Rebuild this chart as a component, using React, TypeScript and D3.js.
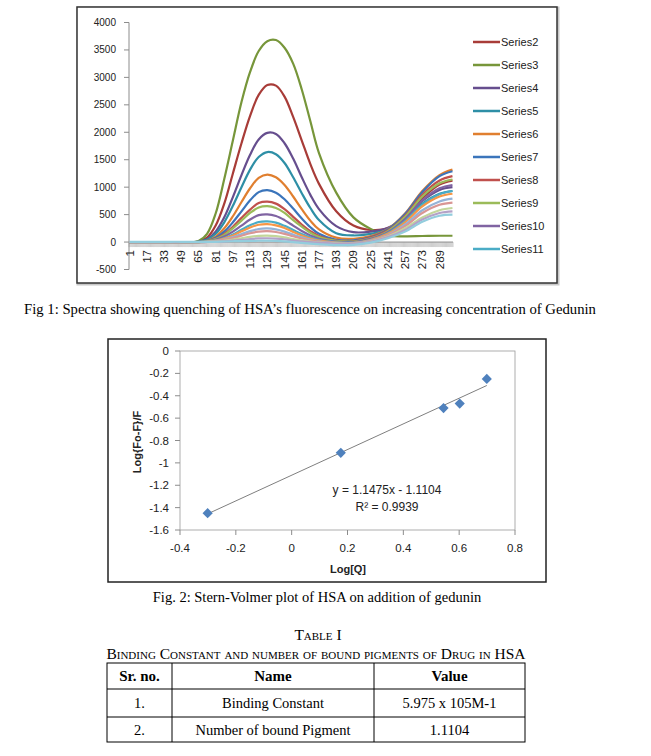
import * as d3 from "d3";
import React from "react";

// ---- Fig 1 data: fluorescence spectra (sampled categories) ----
const specCats = [1, 17, 33, 49, 65, 73, 81, 89, 97, 105, 113, 121, 129, 137, 145, 153, 161, 169, 177, 193, 209, 225, 241, 257, 273, 289, 301];

const s2 = [0, 0, 0, 0, 10, 80, 300, 700, 1250, 1800, 2300, 2680, 2860, 2850, 2650, 2280, 1850, 1420, 1060, 560, 300, 220, 250, 450, 800, 1050, 1120];
const s3 = [null, null, null, 0, 20, 150, 520, 1150, 1850, 2550, 3100, 3480, 3660, 3680, 3540, 3250, 2780, 2200, 1620, 900, 450, 240, 120, 105, 110, 115, 115];
const s4 = [0, 0, 0, 0, 5, 50, 190, 450, 820, 1220, 1590, 1870, 1990, 1970, 1800, 1520, 1180, 860, 600, 290, 180, 190, 260, 450, 750, 950, 1000];
const s5 = [0, 0, 0, 0, 5, 40, 150, 360, 660, 1000, 1320, 1550, 1640, 1600, 1440, 1180, 890, 620, 400, 160, 120, 150, 230, 420, 700, 880, 930];
const s6 = [0, 0, 0, 0, 0, 25, 100, 250, 470, 730, 980, 1170, 1230, 1180, 1040, 830, 600, 390, 230, 80, 60, 110, 240, 520, 930, 1220, 1320];
const s7 = [0, 0, 0, 0, 0, 20, 80, 190, 360, 560, 760, 910, 945, 900, 780, 610, 430, 270, 150, 40, 30, 90, 230, 510, 910, 1200, 1290];
const s8 = [0, 0, 0, 0, 0, 15, 60, 150, 280, 440, 590, 710, 735, 700, 600, 460, 320, 200, 110, 25, 15, 80, 210, 480, 860, 1120, 1200];
const s9 = [0, 0, 0, 0, 0, 12, 55, 130, 250, 390, 530, 630, 655, 620, 530, 400, 280, 170, 90, 20, 10, 70, 200, 460, 830, 1070, 1140];
const s10 = [0, 0, 0, 0, 0, 10, 40, 100, 190, 300, 410, 490, 505, 475, 400, 300, 200, 120, 60, 10, 0, 60, 180, 420, 760, 980, 1040];
const s11 = [0, 0, 0, 0, 0, 8, 30, 75, 140, 225, 305, 365, 378, 355, 295, 220, 145, 85, 40, 0, -10, 40, 160, 380, 680, 870, 930];
const s12 = [0, 0, 0, 0, 0, 6, 25, 65, 120, 195, 265, 315, 328, 305, 255, 185, 120, 65, 25, -10, -15, 35, 150, 360, 650, 830, 880];
const s13 = [0, 0, 0, 0, 0, 5, 20, 50, 90, 145, 200, 238, 248, 230, 190, 135, 85, 45, 15, -15, -20, 25, 130, 320, 580, 740, 790];
const s14 = [0, 0, 0, 0, 0, 4, 15, 40, 72, 115, 160, 190, 198, 183, 150, 105, 65, 30, 5, -20, -25, 20, 120, 290, 530, 680, 720];
const s15 = [0, 0, 0, 0, 0, 2, 10, 24, 45, 70, 95, 113, 118, 108, 85, 55, 30, 10, -5, -25, -30, 10, 100, 250, 450, 580, 620];
const s16 = [0, 0, 0, 0, 0, 1, 5, 14, 26, 40, 56, 66, 69, 62, 48, 30, 12, 0, -10, -30, -30, 5, 90, 220, 410, 530, 560];
const s17 = [5, 5, 5, 5, 2, 2, 5, 10, 15, 18, 22, 24, 25, 20, 12, 0, -15, -30, -40, -55, -50, -10, 70, 190, 370, 480, 500];

const seriesNames = ["Series2", "Series3", "Series4", "Series5", "Series6", "Series7", "Series8", "Series9", "Series10", "Series11", "Series12", "Series13", "Series14", "Series15", "Series16", "Series17"];
const seriesValues = [s2, s3, s4, s5, s6, s7, s8, s9, s10, s11, s12, s13, s14, s15, s16, s17];
const seriesColors = ["#A83C38", "#77963A", "#664E8E", "#2E8FA6", "#E07F2F", "#3B75BB", "#C0504D", "#9BBB59", "#8064A2", "#4BACC6", "#F79646", "#95B3D7", "#D99694", "#C3D69B", "#B3A2C7", "#93CDDD"];
const legendCount = 10; // legend only shows Series2..Series11

const specYTicks = [-500, 0, 500, 1000, 1500, 2000, 2500, 3000, 3500, 4000];
const specCatCount = 301;

// ---- Fig 2 data: Stern-Volmer ----
const logQ = [-0.301, 0.176, 0.544, 0.602, 0.699];
const logRatio = [-1.45, -0.91, -0.51, -0.47, -0.25];
const fitSlope = 1.1475;
const fitIntercept = -1.1104;
const svXTicks = [-0.4, -0.2, 0, 0.2, 0.4, 0.6, 0.8];
const svYTicks = [0, -0.2, -0.4, -0.6, -0.8, -1, -1.2, -1.4, -1.6];

// ---- Table ----
const tableHeader = ["Sr. no.", "Name", "Value"];
const tableRows = [
  ["1.", "Binding Constant", "5.975 x 105M-1"],
  ["2.", "Number of bound Pigment", "1.1104"],
];

const sans = "'Liberation Sans', Arial, sans-serif";
const serif = "'Liberation Serif', 'Times New Roman', serif";

function SpectraChart() {
  const x = d3.scaleLinear().domain([0.5, specCatCount + 0.5]).range([129, 453]);
  const y = d3.scaleLinear().domain([-500, 4000]).range([269.5, 22.5]);
  const line = d3
    .line<number | null>()
    .defined((d) => d !== null)
    .x((_, i) => x(specCats[i]))
    .y((d) => y(d as number))
    .curve(d3.curveCatmullRom.alpha(0.5));

  const catTicks = d3.range(0, specCatCount + 1).map((i) => x(i + 0.5));
  const labelCats = d3.range(1, specCatCount + 1, 16);

  return (
    <g>
      {/* frame */}
      <rect x={78} y={8} width={480} height={276} fill="none" stroke="#c8c8c8" strokeWidth={3} />
      <rect x={77} y={7} width={480} height={276} fill="#fff" stroke="#333" strokeWidth={1.5} />

      {/* y axis */}
      <line x1={129} x2={129} y1={y(4000)} y2={y(-500)} stroke="#8c8c8c" />
      {specYTicks.map((t) => (
        <g key={t}>
          <line x1={124} x2={129} y1={y(t)} y2={y(t)} stroke="#8c8c8c" />
          <text x={116} y={y(t)} dy="0.35em" textAnchor="end" fontSize={10} fontFamily={sans} fill="#222">
            {t}
          </text>
        </g>
      ))}

      {/* x axis */}
      {catTicks.map((cx, i) => (
        <line key={i} x1={cx} x2={cx} y1={y(0)} y2={y(0) + 5} stroke="#9a9a9a" strokeWidth={0.5} />
      ))}
      <line x1={129} x2={453} y1={y(0)} y2={y(0)} stroke="#8c8c8c" />
      {labelCats.map((c) => (
        <text
          key={c}
          transform={`translate(${x(c) + 4},${y(0) + 8}) rotate(-90)`}
          textAnchor="end"
          fontSize={11.5}
          fontFamily={sans}
          fill="#222"
        >
          {c}
        </text>
      ))}

      {/* series */}
      {seriesValues.map((vals, i) => (
        <path key={seriesNames[i]} d={line(vals) ?? ""} fill="none" stroke={seriesColors[i]} strokeWidth={2.2} />
      ))}

      {/* legend */}
      {seriesNames.slice(0, legendCount).map((name, i) => (
        <g key={name}>
          <line x1={473} x2={500} y1={42 + i * 23} y2={42 + i * 23} stroke={seriesColors[i]} strokeWidth={2.5} />
          <text x={501} y={42 + i * 23} dy="0.35em" fontSize={11} fontFamily={sans} fill="#222">
            {name}
          </text>
        </g>
      ))}
    </g>
  );
}

function SternVolmerChart() {
  const x = d3.scaleLinear().domain([-0.4, 0.8]).range([180, 515]);
  const y = d3.scaleLinear().domain([-1.6, 0]).range([530, 351]);
  const fmt = (v: number) => (Math.abs(v) < 1e-9 ? "0" : String(+v.toFixed(1)));
  const xMin = d3.min(logQ) as number;
  const xMax = d3.max(logQ) as number;
  const marker = d3.symbol(d3.symbolSquare, 52)();

  return (
    <g>
      <rect x={108} y={339} width={438} height={243} fill="#fff" stroke="#222" strokeWidth={1.5} />
      <rect x={180} y={351} width={335} height={179} fill="none" stroke="#9a9a9a" strokeWidth={0.8} />

      {svYTicks.map((t) => (
        <g key={t}>
          <line x1={175} x2={180} y1={y(t)} y2={y(t)} stroke="#8c8c8c" />
          <text x={169} y={y(t)} dy="0.35em" textAnchor="end" fontSize={11.5} fontFamily={sans} fill="#222">
            {fmt(t)}
          </text>
        </g>
      ))}
      {svXTicks.map((t) => (
        <g key={t}>
          <line x1={x(t)} x2={x(t)} y1={530} y2={535} stroke="#8c8c8c" />
          <text x={x(t)} y={552} textAnchor="middle" fontSize={11.5} fontFamily={sans} fill="#222">
            {fmt(t)}
          </text>
        </g>
      ))}

      <line
        x1={x(xMin)}
        y1={y(fitSlope * xMin + fitIntercept)}
        x2={x(xMax)}
        y2={y(fitSlope * xMax + fitIntercept)}
        stroke="#7f7f7f"
        strokeWidth={1}
      />
      {logQ.map((q, i) => (
        <path
          key={i}
          d={marker ?? ""}
          transform={`translate(${x(q)},${y(logRatio[i])}) rotate(45)`}
          fill="#4F81BD"
        />
      ))}

      <text x={387} y={494} textAnchor="middle" fontSize={12} fontFamily={sans} fill="#222">
        {`y = ${fitSlope}x - ${Math.abs(fitIntercept)}`}
      </text>
      <text x={387} y={511} textAnchor="middle" fontSize={12} fontFamily={sans} fill="#222">
        R² = 0.9939
      </text>

      <text x={348} y={573} textAnchor="middle" fontSize={11} fontWeight="bold" fontFamily={sans} fill="#222">
        Log[Q]
      </text>
      <text
        transform="translate(141,442) rotate(-90)"
        textAnchor="middle"
        fontSize={11}
        fontWeight="bold"
        fontFamily={sans}
        fill="#222"
      >
        Log{"{"}Fo-F{"}"}/F
      </text>
    </g>
  );
}

function BindingTable() {
  const cols = [107, 172, 374, 525];
  const rows = [663, 689, 717, 742];
  const cell = (ci: number) => (cols[ci] + cols[ci + 1]) / 2;
  return (
    <g fontFamily={serif} fill="#000">
      <text x={318} y={640} textAnchor="middle" fontSize={15.5} style={{ fontVariant: "small-caps" }}>
        Table I
      </text>
      <text x={316} y={659} textAnchor="middle" fontSize={15.5} style={{ fontVariant: "small-caps" }}>
        Binding Constant and number of bound pigments of Drug in HSA
      </text>
      <rect x={cols[0]} y={rows[0]} width={cols[3] - cols[0]} height={rows[3] - rows[0]} fill="none" stroke="#000" />
      {rows.slice(1, 3).map((ry) => (
        <line key={ry} x1={cols[0]} x2={cols[3]} y1={ry} y2={ry} stroke="#000" />
      ))}
      {cols.slice(1, 3).map((cx) => (
        <line key={cx} x1={cx} x2={cx} y1={rows[0]} y2={rows[3]} stroke="#000" />
      ))}
      {tableHeader.map((h, i) => (
        <text key={h} x={cell(i)} y={681} textAnchor="middle" fontSize={15} fontWeight="bold">
          {h}
        </text>
      ))}
      {tableRows.map((r, ri) =>
        r.map((v, ci) => (
          <text key={`${ri}-${ci}`} x={cell(ci)} y={(rows[ri + 1] + rows[ri + 2]) / 2 + 5} textAnchor="middle" fontSize={14.5}>
            {v}
          </text>
        )),
      )}
    </g>
  );
}

export default function App() {
  return (
    <svg
      width={651}
      height={756}
      style={{ position: "absolute", left: 0, top: 0, background: "#fff" }}
    >
      <rect width={651} height={756} fill="#fff" />
      <SpectraChart />
      <text x={310} y={314} textAnchor="middle" fontSize={14.7} fontFamily={serif} fill="#000">
        Fig 1: Spectra showing quenching of HSA’s fluorescence on increasing concentration of Gedunin
      </text>
      <SternVolmerChart />
      <text x={317} y={602} textAnchor="middle" fontSize={14.5} fontFamily={serif} fill="#000">
        Fig. 2: Stern-Volmer plot of HSA on addition of gedunin
      </text>
      <BindingTable />
    </svg>
  );
}
